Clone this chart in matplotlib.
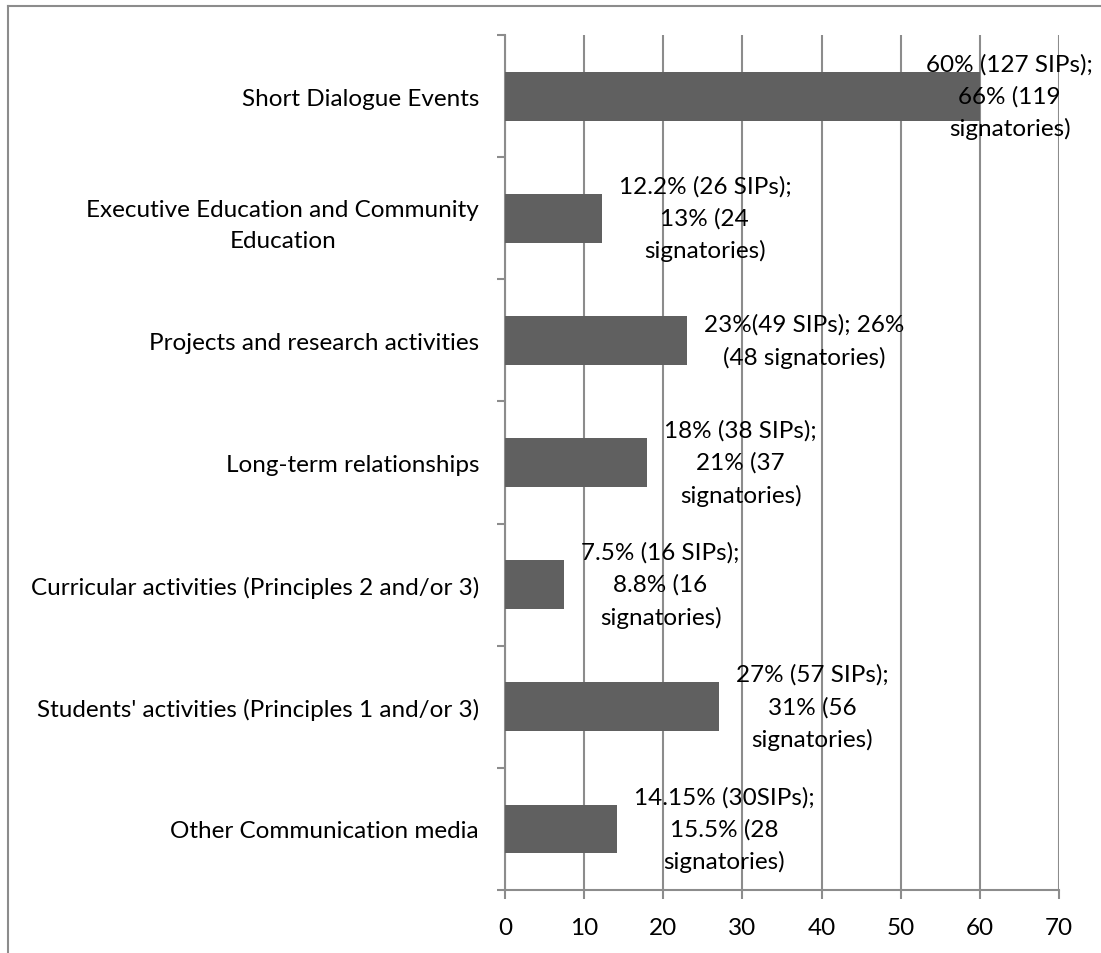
import matplotlib
matplotlib.use("Agg")
import matplotlib.pyplot as plt
from matplotlib.lines import Line2D
import numpy as np

plt.rcParams['font.family'] = ['Lato', 'DejaVu Sans']

categories = [
    "Short Dialogue Events",
    "Executive Education and Community\nEducation",
    "Projects and research activities",
    "Long-term relationships",
    "Curricular activities (Principles 2 and/or 3)",
    "Students' activities (Principles 1 and/or 3)",
    "Other Communication media",
]
values = [60, 12.2, 23, 18, 7.5, 27, 14.15]
value_labels = [
    "60% (127 SIPs);\n66% (119\nsignatories)",
    "12.2% (26 SIPs);\n13% (24\nsignatories)",
    "23%(49 SIPs); 26%\n(48 signatories)",
    "18% (38 SIPs);\n21% (37\nsignatories)",
    "7.5% (16 SIPs);\n8.8% (16\nsignatories)",
    "27% (57 SIPs);\n31% (56\nsignatories)",
    "14.15% (30SIPs);\n15.5% (28\nsignatories)",
]
x_ticks = [0, 10, 20, 30, 40, 50, 60, 70]

W, H, DPI = 1101, 954, 100
FS = 17.5
GRID = "#8c8c8c"
BAR = "#606060"

fig = plt.figure(figsize=(W / DPI, H / DPI), dpi=DPI)
ax = fig.add_axes([505 / W, (H - 891) / H, (1059 - 505) / W, (891 - 36) / H])

pos = np.arange(len(categories))
ax.barh(pos, values, height=0.4, color=BAR, zorder=3)

ax.set_xlim(0, 70)
ax.set_ylim(len(categories) - 0.5, -0.5)
ax.set_xticks(x_ticks)
ax.set_xticklabels([str(t) for t in x_ticks], fontsize=FS)
ax.set_yticks(pos)
ax.set_yticklabels(categories, fontsize=FS, multialignment="center", linespacing=1.6)
ax.set_yticks(np.arange(len(categories) + 1) - 0.5, minor=True)

px = 72 / DPI
ax.tick_params(axis="y", which="major", length=0, pad=26 * px)
ax.tick_params(axis="y", which="minor", length=8 * px, width=1.5, color=GRID, direction="out")
ax.tick_params(axis="x", which="major", length=9 * px, width=1.5, color=GRID, direction="out", pad=13)

ax.grid(axis="x", color=GRID, linewidth=1.5, zorder=0)
ax.set_axisbelow(True)
for side in ("top", "right"):
    ax.spines[side].set_visible(False)
for side in ("left", "bottom"):
    ax.spines[side].set_color(GRID)
    ax.spines[side].set_linewidth(1.5)

anns = []
for p, v, lab in zip(pos, values, value_labels):
    a = ax.annotate(lab, xy=(v, p), xytext=(17, 0), textcoords="offset pixels",
                    ha="left", va="center", multialignment="center",
                    fontsize=FS, linespacing=1.6, zorder=4)
    anns.append(a)

# keep data labels inside the chart area
fig.canvas.draw()
limit = W - 8
for a in anns:
    bb = a.get_window_extent()
    if bb.x1 > limit:
        a.xyann = (17 - (bb.x1 - limit), 0)

# chart area border
fig.add_artist(Line2D([8 / W, 1], [(H - 7) / H, (H - 7) / H], color=GRID, lw=1.5))
fig.add_artist(Line2D([8 / W, 8 / W], [0, (H - 7) / H], color=GRID, lw=1.5))

fig.savefig("out.png", dpi=DPI)
